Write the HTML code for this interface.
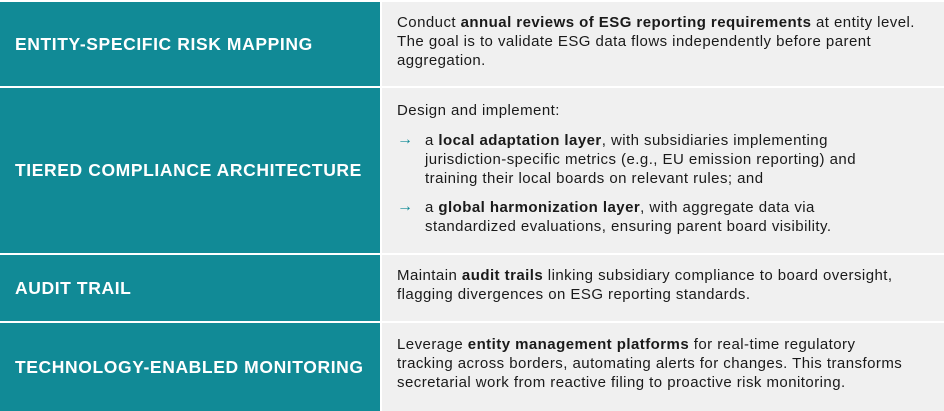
<!DOCTYPE html>
<html><head><style>
body{margin:0;width:944px;height:411px;background:#fff;position:relative;overflow:hidden;font-family:"Liberation Sans",sans-serif}
.l{position:absolute;left:0;width:380px;background:#118a96;color:#fff;font-weight:bold;font-size:17.5px;box-sizing:border-box;padding-left:15px;display:flex;align-items:center;letter-spacing:0.6px}
.r{position:absolute;left:382px;width:562px;background:#f0f0f0;color:#1a1a1a;font-size:15px}
.t{position:absolute;left:15px;white-space:nowrap;line-height:19px;letter-spacing:0.45px}
.a{position:absolute;left:15px;color:#118a96;font-size:16px;line-height:17px}
</style></head><body>
<div class="l" style="top:2px;height:84px">ENTITY-SPECIFIC RISK MAPPING</div>
<div class="r" style="top:2px;height:84px"><div class="t" style="top:11px">Conduct <b>annual reviews of ESG reporting requirements</b> at entity level.<br>The goal is to validate ESG data flows independently before parent<br>aggregation.</div></div>
<div class="l" style="top:88px;height:165px">TIERED COMPLIANCE ARCHITECTURE</div>
<div class="r" style="top:88px;height:165px">
<div class="t" style="top:13px">Design and implement:</div>
<div class="a" style="top:43px">→</div>
<div class="t" style="top:43px;left:43px">a <b>local adaptation layer</b>, with subsidiaries implementing<br>jurisdiction-specific metrics (e.g., EU emission reporting) and<br>training their local boards on relevant rules; and</div>
<div class="a" style="top:110px">→</div>
<div class="t" style="top:110px;left:43px">a <b>global harmonization layer</b>, with aggregate data via<br>standardized evaluations, ensuring parent board visibility.</div>
</div>
<div class="l" style="top:255px;height:66px">AUDIT TRAIL</div>
<div class="r" style="top:255px;height:66px"><div class="t" style="top:11px">Maintain <b>audit trails</b> linking subsidiary compliance to board oversight,<br>flagging divergences on ESG reporting standards.</div></div>
<div class="l" style="top:323px;height:88px">TECHNOLOGY-ENABLED MONITORING</div>
<div class="r" style="top:323px;height:88px"><div class="t" style="top:12px">Leverage <b>entity management platforms</b> for real-time regulatory<br>tracking across borders, automating alerts for changes. This transforms<br>secretarial work from reactive filing to proactive risk monitoring.</div></div>
</body></html>
